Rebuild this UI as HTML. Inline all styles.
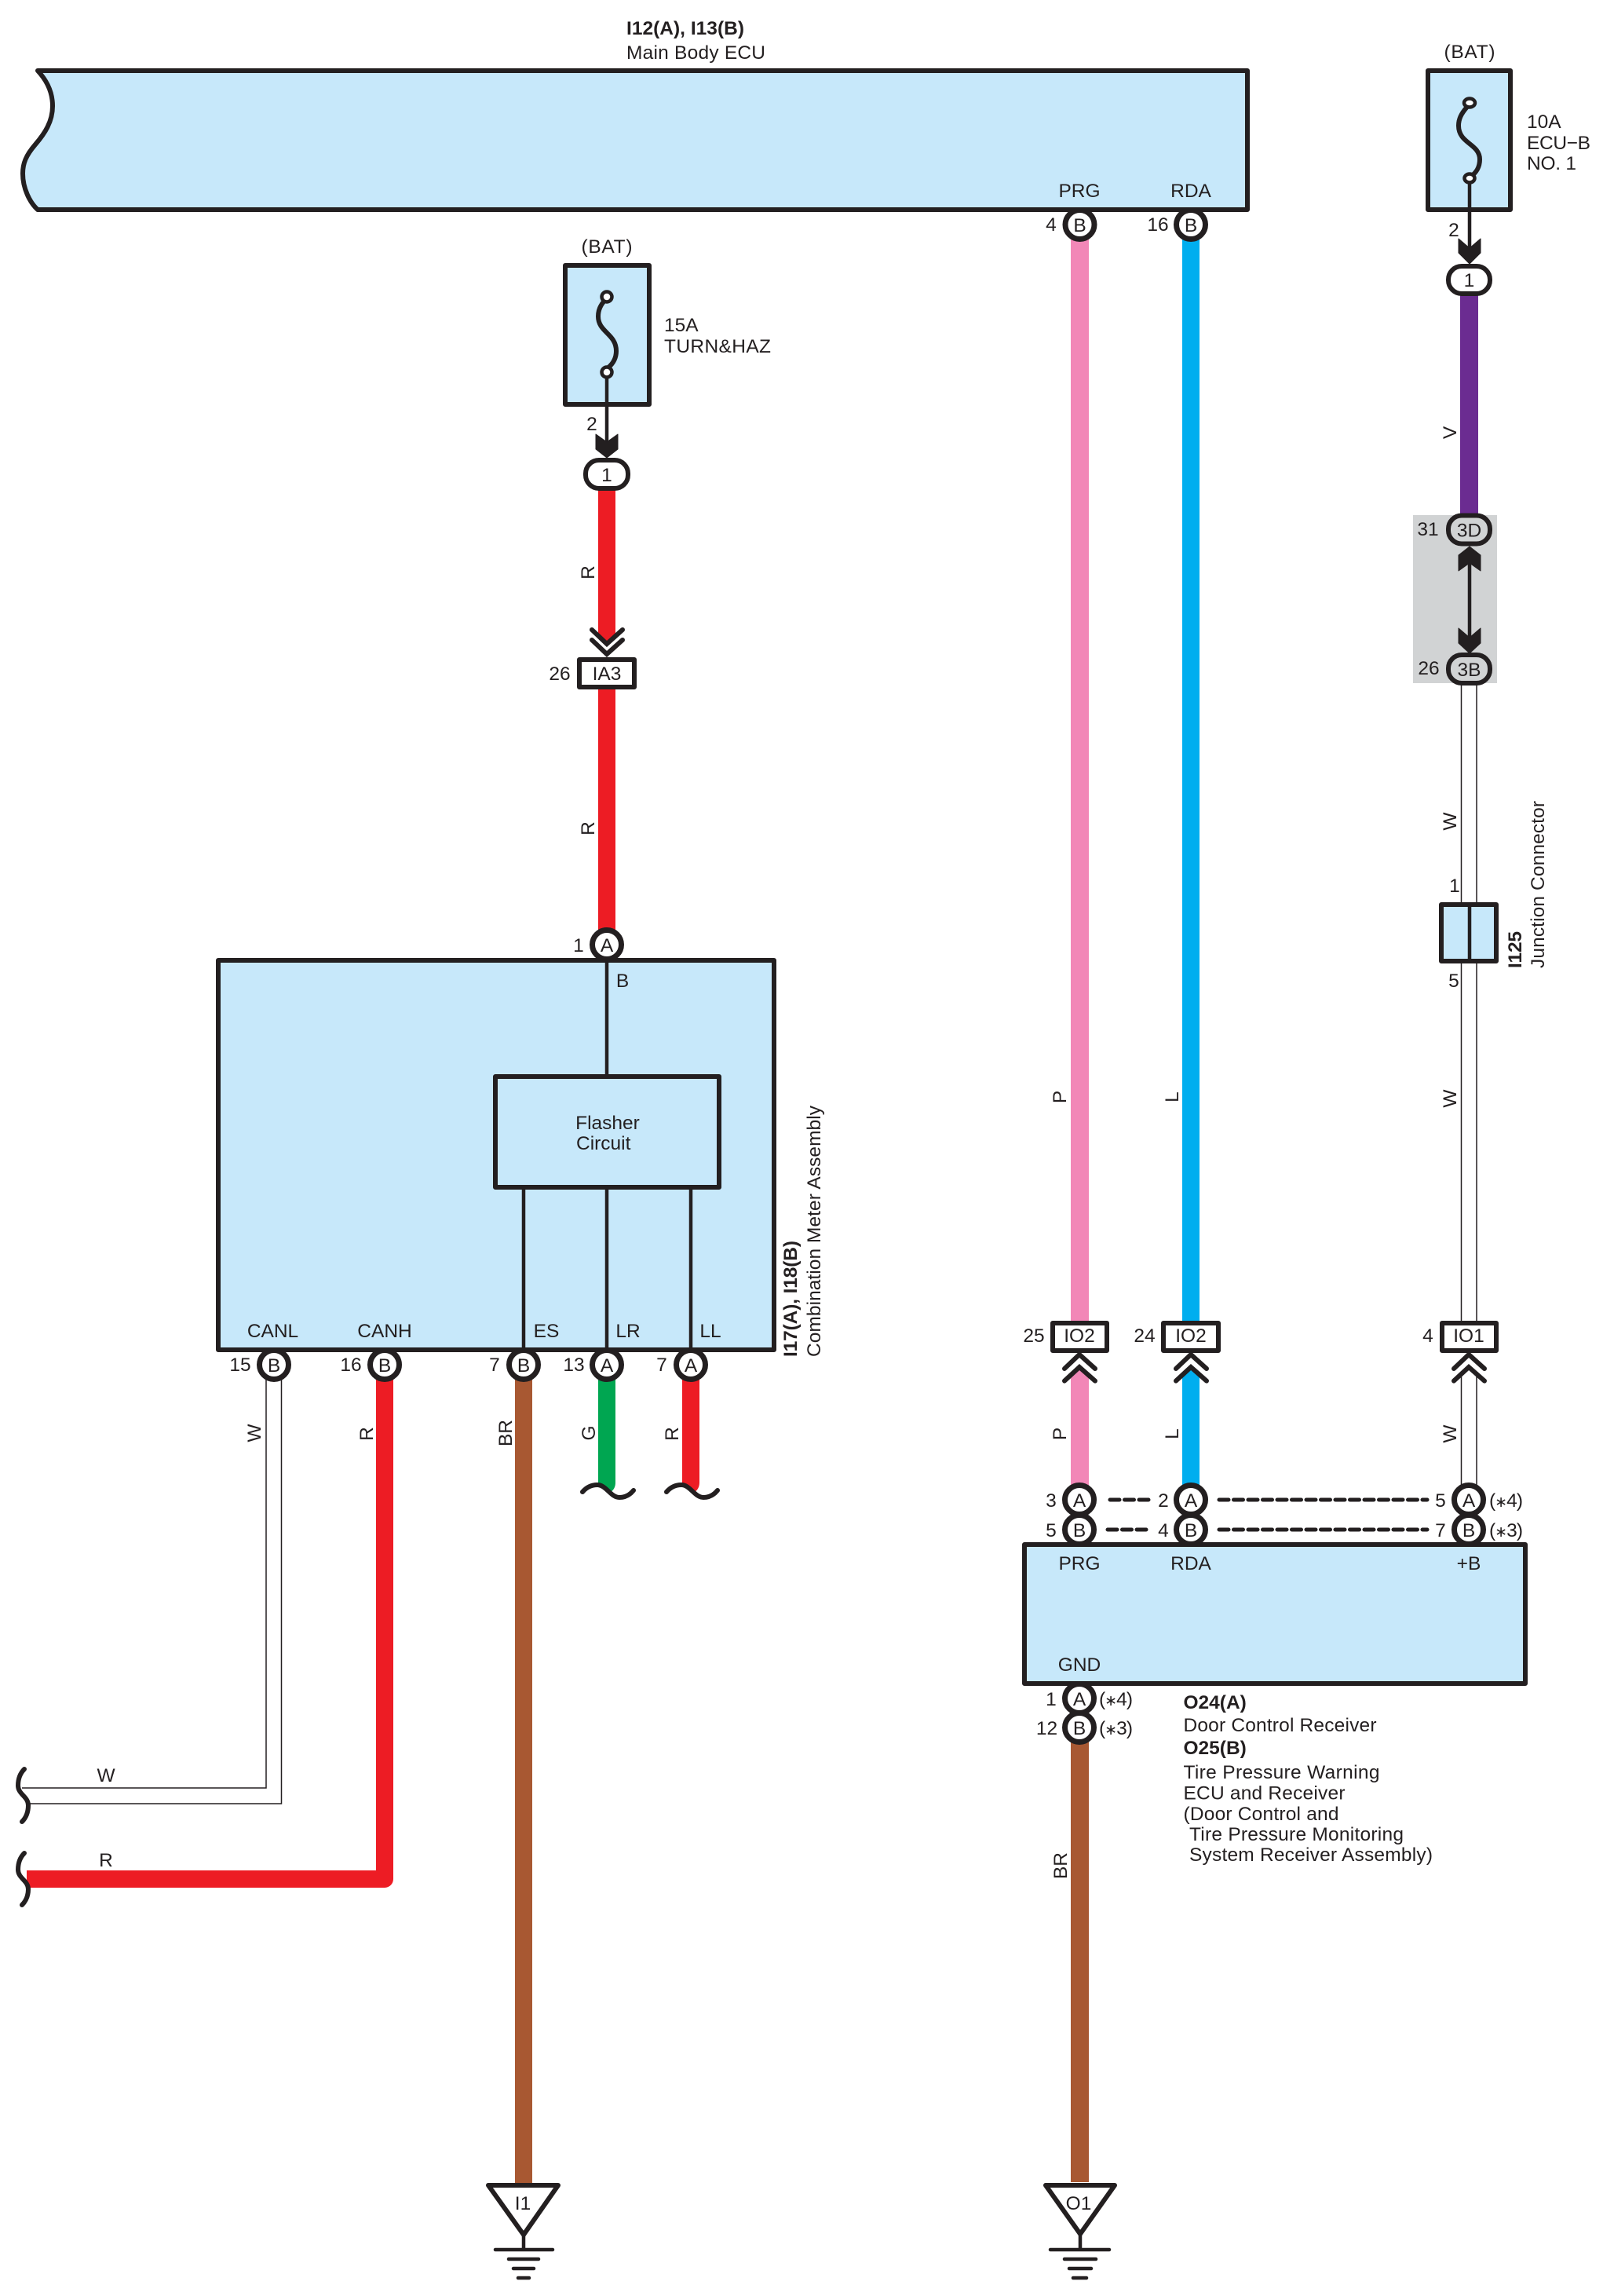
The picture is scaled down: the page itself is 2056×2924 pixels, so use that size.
<!DOCTYPE html>
<html><head><meta charset="utf-8"><style>
html,body{margin:0;padding:0;background:#fff}
svg{display:block}
text{font-family:"Liberation Sans","DejaVu Sans",sans-serif;font-size:24.5px;fill:#231F20}
.m{text-anchor:middle}
.b{font-weight:bold}
.box{fill:#C7E8FA;stroke:#231F20;stroke-width:6;stroke-linejoin:round}
.wb{fill:#fff;stroke:#231F20;stroke-width:6;stroke-linejoin:round}
.c{fill:#fff;stroke:#231F20;stroke-width:7}
.o{fill:#fff;stroke:#231F20;stroke-width:6}
.og{fill:#D1D3D4;stroke:#231F20;stroke-width:6}
.l{fill:none;stroke:#231F20;stroke-width:4.5}
.f{fill:none;stroke:#231F20;stroke-width:6}
.t{fill:none;stroke:#231F20;stroke-width:1.5}
.ch{fill:none;stroke:#231F20;stroke-width:6;stroke-linecap:round}
.sq{fill:none;stroke:#231F20;stroke-width:6;stroke-linecap:round}
.d{stroke:#231F20;stroke-width:5;stroke-linecap:round;stroke-dasharray:12 6.5}
.g{stroke:#231F20;stroke-width:4.5;stroke-linecap:round}
.a{fill:#231F20;stroke:#231F20;stroke-width:1;stroke-linejoin:round}
.s{font-size:19px}
</style></head><body>
<svg width="2056" height="2924" viewBox="0 0 2056 2924" xmlns="http://www.w3.org/2000/svg">
<rect width="2056" height="2924" fill="#fff"/>

<!-- grey splice region -->
<rect x="1800" y="656" width="107" height="214" fill="#D1D3D4"/>

<!-- main ECU -->
<path class="box" d="M48 90H1589V267H48C38 258 29 240 29 221C29 208 33 198 45 184C57 170 67 155 67 135C67 120 62 105 48 90Z"/>
<text x="798" y="35" dy=".37em" class="b" textLength="150">I12(A), I13(B)</text>
<text x="798" y="66" dy=".37em" textLength="177">Main Body ECU</text>
<text x="1375" y="242" dy=".37em" class="m">PRG</text>
<text x="1517" y="242" dy=".37em" class="m">RDA</text>

<!-- coloured wires -->
<rect x="1364" y="300" width="23" height="1384" fill="#F287B7"/>
<polygon points="1364,1750 1375.5,1738 1387,1750 1387,1895 1364,1895" fill="#F287B7"/>
<rect x="1506" y="300" width="22" height="1384" fill="#00AEEF"/>
<polygon points="1506,1750 1517,1738 1528,1750 1528,1895 1506,1895" fill="#00AEEF"/>
<rect x="1860" y="375" width="23" height="282" fill="#6B2C91"/>
<polygon points="762,620 784,620 784,808 773,820 762,808" fill="#ED1C24"/>
<rect x="762" y="875" width="22" height="310" fill="#ED1C24"/>
<polyline points="490,1750 490,2393 34,2393" fill="none" stroke="#ED1C24" stroke-width="22" stroke-linejoin="round"/>
<rect x="656" y="1750" width="22" height="1030" fill="#A85832"/>
<rect x="1364" y="2215" width="23" height="564" fill="#A85832"/>
<path d="M762 1750H784V1888Q784 1896 778 1900L762 1893Z" fill="#00A651"/>
<path d="M869 1750H891V1888Q891 1896 885 1900L869 1893Z" fill="#ED1C24"/>

<!-- white wires -->
<path class="t" d="M339 1755V2277H28M358.5 1755V2297H38"/>
<path class="t" d="M1861.5 870V1150M1881 870V1150M1861.5 1225V1684M1881 1225V1684M1861.5 1750V1892M1881 1750V1892"/>

<!-- fuse 1 -->
<text x="773" y="313" dy=".37em" class="m" textLength="65">(BAT)</text>
<rect class="box" x="720" y="338" width="107" height="177"/>
<path class="f" d="M771 382C765 388 762 395 762 403C762 423 785 425 785 447C785 455 782 462 775 468"/>
<circle cx="773" cy="378" r="6.5" fill="#fff" stroke="#231F20" stroke-width="4.5"/>
<circle cx="773" cy="474" r="6.5" fill="#fff" stroke="#231F20" stroke-width="4.5"/>
<line class="l" x1="773" y1="481" x2="773" y2="570"/>
<polygon class="a" points="759,553 773,563 787,553 787,572 773,583 759,572"/>
<text x="846" y="413" dy=".37em">15A</text>
<text x="846" y="440" dy=".37em" textLength="136">TURN&amp;HAZ</text>
<text x="754" y="539" dy=".37em" class="m">2</text>
<rect class="o" x="746" y="586" width="54" height="36" rx="17"/>
<text x="773" y="604" dy=".37em" class="m">1</text>
<text transform="rotate(-90 748 729)" x="748" y="729" dy=".37em" class="m">R</text>

<polyline class="ch" points="754,802 773,820 793,802"/>
<polyline class="ch" points="754,815 773,833 793,815"/>
<rect class="wb" x="738" y="840" width="70" height="35"/>
<text x="773" y="857" dy=".37em" class="m">IA3</text>
<text x="713" y="857" dy=".37em" class="m">26</text>
<text transform="rotate(-90 748 1055)" x="748" y="1055" dy=".37em" class="m">R</text>

<!-- combination meter -->
<rect class="box" x="278" y="1223" width="708" height="496"/>
<line class="l" x1="773" y1="1223" x2="773" y2="1371"/>
<rect class="box" x="631" y="1371" width="285" height="141"/>
<line class="l" x1="667" y1="1512" x2="667" y2="1719"/>
<line class="l" x1="773" y1="1512" x2="773" y2="1719"/>
<line class="l" x1="880" y1="1512" x2="880" y2="1719"/>
<text x="774" y="1429" dy=".37em" class="m">Flasher</text>
<text x="734" y="1455" dy=".37em">Circuit</text>
<text x="793" y="1248" dy=".37em" class="m">B</text>
<text x="347.5" y="1694" dy=".37em" class="m">CANL</text>
<text x="490" y="1694" dy=".37em" class="m">CANH</text>
<text x="696" y="1694" dy=".37em" class="m">ES</text>
<text x="800" y="1694" dy=".37em" class="m">LR</text>
<text x="905" y="1694" dy=".37em" class="m">LL</text>
<text transform="rotate(-90 1006 1728)" x="1006" y="1728" dy=".37em" class="b" textLength="148">I17(A), I18(B)</text>
<text transform="rotate(-90 1036 1728)" x="1036" y="1728" dy=".37em" textLength="320">Combination Meter Assembly</text>

<circle class="c" cx="773" cy="1203" r="18.5"/><text x="773" y="1203" dy=".37em" class="m">A</text>
<text x="737" y="1203" dy=".37em" class="m">1</text>

<circle class="c" cx="349" cy="1738" r="18.5"/><text x="349" y="1738" dy=".37em" class="m">B</text>
<circle class="c" cx="490" cy="1738" r="18.5"/><text x="490" y="1738" dy=".37em" class="m">B</text>
<circle class="c" cx="667" cy="1738" r="18.5"/><text x="667" y="1738" dy=".37em" class="m">B</text>
<circle class="c" cx="773" cy="1738" r="18.5"/><text x="773" y="1738" dy=".37em" class="m">A</text>
<circle class="c" cx="880" cy="1738" r="18.5"/><text x="880" y="1738" dy=".37em" class="m">A</text>
<text x="306" y="1737" dy=".37em" class="m">15</text>
<text x="447" y="1737" dy=".37em" class="m">16</text>
<text x="630" y="1737" dy=".37em" class="m">7</text>
<text x="731" y="1737" dy=".37em" class="m">13</text>
<text x="843" y="1737" dy=".37em" class="m">7</text>
<text transform="rotate(-90 323 1825)" x="323" y="1825" dy=".37em" class="m">W</text>
<text transform="rotate(-90 466 1826)" x="466" y="1826" dy=".37em" class="m">R</text>
<text transform="rotate(-90 643 1825)" x="643" y="1825" dy=".37em" class="m">BR</text>
<text transform="rotate(-90 749 1825)" x="749" y="1825" dy=".37em" class="m">G</text>
<text transform="rotate(-90 855 1826)" x="855" y="1826" dy=".37em" class="m">R</text>

<path class="sq" d="M742 1900C748 1893 755 1891 761 1891C772 1891 778 1907 789 1907C797 1907 803 1903 807 1898"/>
<path class="sq" d="M849 1900C855 1893 862 1891 868 1891C879 1891 885 1907 896 1907C904 1907 910 1903 914 1898"/>

<!-- left breaks -->
<path class="sq" d="M31 2253C25 2259 23 2267 23 2274C23 2285 36 2288 36 2299C36 2308 33 2315 28 2320"/>
<path class="sq" d="M31 2360C25 2366 23 2374 23 2381C23 2392 36 2395 36 2406C36 2415 33 2421 28 2426"/>
<text x="135" y="2260" dy=".37em" class="m">W</text>
<text x="135" y="2368" dy=".37em" class="m">R</text>

<!-- ground I1 -->
<polygon class="wb" points="622,2783 711,2783 667,2846"/>
<path class="g" d="M667 2846V2865M631 2865H704M648 2877H686M654 2889H680M660 2901H674" />
<text x="666" y="2805" dy=".37em" class="m">I1</text>

<!-- ground O1 -->
<polygon class="wb" points="1332,2783 1420,2783 1376,2845"/>
<path class="g" d="M1376 2845V2865M1338 2865H1413M1356 2877H1396M1362 2889H1390M1367 2901H1384"/>
<text x="1374" y="2805" dy=".37em" class="m">O1</text>

<!-- ECU pins -->
<circle class="c" cx="1375.5" cy="286" r="18.5"/><text x="1375.5" y="286" dy=".37em" class="m">B</text>
<circle class="c" cx="1517" cy="286" r="18.5"/><text x="1517" y="286" dy=".37em" class="m">B</text>
<text x="1339" y="285" dy=".37em" class="m">4</text>
<text x="1475" y="285" dy=".37em" class="m">16</text>
<text transform="rotate(-90 1349 1397)" x="1349" y="1397" dy=".37em" class="m">P</text>
<text transform="rotate(-90 1492 1397)" x="1492" y="1397" dy=".37em" class="m">L</text>

<!-- fuse 2 -->
<text x="1872" y="65" dy=".37em" class="m" textLength="65">(BAT)</text>
<rect class="box" x="1819" y="90" width="105" height="177"/>
<path class="f" d="M1869 136C1861 145 1858 152 1858 160C1858 183 1885 183 1885 203C1885 212 1881 220 1873 225"/>
<ellipse cx="1872" cy="131" rx="7" ry="5.5" fill="#fff" stroke="#231F20" stroke-width="4.5"/>
<ellipse cx="1872" cy="227" rx="6.5" ry="5.5" fill="#fff" stroke="#231F20" stroke-width="4.5"/>
<line class="l" x1="1872" y1="233" x2="1872" y2="322"/>
<polygon class="a" points="1858,304 1872,316 1886,304 1886,322 1872,336 1858,322"/>
<text x="1945" y="154" dy=".37em">10A</text>
<text x="1945" y="181" dy=".37em" textLength="81">ECU−B</text>
<text x="1945" y="207" dy=".37em" textLength="63">NO. 1</text>
<text x="1852" y="292" dy=".37em" class="m">2</text>
<rect class="o" x="1845" y="339" width="53" height="35" rx="17"/>
<text x="1871.5" y="356" dy=".37em" class="m">1</text>
<text transform="rotate(-90 1846 551)" x="1846" y="551" dy=".37em" class="m">V</text>

<!-- splice -->
<line class="l" x1="1872" y1="712" x2="1872" y2="815"/>
<polygon class="a" points="1872,696 1886,707 1886,727 1872,717 1858,727 1858,707"/>
<polygon class="a" points="1858,800 1872,812 1886,800 1886,819 1872,832 1858,819"/>
<rect class="og" x="1845" y="656.5" width="53" height="36" rx="17"/>
<text x="1871.5" y="674.5" dy=".37em" class="m">3D</text>
<rect class="og" x="1845" y="834" width="53" height="36" rx="17"/>
<text x="1871.5" y="852" dy=".37em" class="m">3B</text>
<text x="1819" y="673" dy=".37em" class="m">31</text>
<text x="1820" y="850" dy=".37em" class="m">26</text>

<!-- junction -->
<text transform="rotate(-90 1846 1046)" x="1846" y="1046" dy=".37em" class="m">W</text>
<text x="1853" y="1127" dy=".37em" class="m">1</text>
<rect class="box" x="1836" y="1152" width="70" height="72"/>
<line class="l" x1="1872" y1="1152" x2="1872" y2="1224"/>
<text x="1852" y="1248" dy=".37em" class="m">5</text>
<text transform="rotate(-90 1929 1233)" x="1929" y="1233" dy=".37em" class="b" textLength="47">I125</text>
<text transform="rotate(-90 1958 1233)" x="1958" y="1233" dy=".37em" textLength="213">Junction Connector</text>
<text transform="rotate(-90 1846 1399)" x="1846" y="1399" dy=".37em" class="m">W</text>

<!-- connectors IO -->
<rect class="wb" x="1341" y="1685" width="69" height="35"/><text x="1375" y="1700" dy=".37em" class="m">IO2</text>
<rect class="wb" x="1482" y="1685" width="70" height="35"/><text x="1517" y="1700" dy=".37em" class="m">IO2</text>
<rect class="wb" x="1837" y="1685" width="69" height="35"/><text x="1871" y="1700" dy=".37em" class="m">IO1</text>
<text x="1317" y="1700" dy=".37em" class="m">25</text>
<text x="1458" y="1700" dy=".37em" class="m">24</text>
<text x="1819" y="1700" dy=".37em" class="m">4</text>
<polyline class="ch" points="1356,1743 1375,1725 1395,1743"/>
<polyline class="ch" points="1356,1758.6 1375,1741 1395,1758.6"/>
<polyline class="ch" points="1498,1743 1517,1725 1537,1743"/>
<polyline class="ch" points="1498,1758.6 1517,1741 1537,1758.6"/>
<polyline class="ch" points="1852,1743 1871,1725 1891,1743"/>
<polyline class="ch" points="1852,1758.6 1871,1741 1891,1758.6"/>
<text transform="rotate(-90 1349 1826)" x="1349" y="1826" dy=".37em" class="m">P</text>
<text transform="rotate(-90 1492 1826)" x="1492" y="1826" dy=".37em" class="m">L</text>
<text transform="rotate(-90 1846 1826)" x="1846" y="1826" dy=".37em" class="m">W</text>

<!-- receiver -->
<rect class="box" x="1305" y="1967" width="638" height="177"/>
<text x="1375" y="1990" dy=".37em" class="m">PRG</text>
<text x="1517" y="1990" dy=".37em" class="m">RDA</text>
<text x="1871" y="1990" dy=".37em" class="m">+B</text>
<text x="1375" y="2119" dy=".37em" class="m">GND</text>

<circle class="c" cx="1375" cy="1948" r="18.5"/><text x="1375" y="1948" dy=".37em" class="m">B</text>
<circle class="c" cx="1375" cy="1910" r="18.5"/><text x="1375" y="1910" dy=".37em" class="m">A</text>
<circle class="c" cx="1517" cy="1948" r="18.5"/><text x="1517" y="1948" dy=".37em" class="m">B</text>
<circle class="c" cx="1517" cy="1910" r="18.5"/><text x="1517" y="1910" dy=".37em" class="m">A</text>
<circle class="c" cx="1871" cy="1948" r="18.5"/><text x="1871" y="1948" dy=".37em" class="m">B</text>
<circle class="c" cx="1871" cy="1910" r="18.5"/><text x="1871" y="1910" dy=".37em" class="m">A</text>
<text x="1339" y="1910" dy=".37em" class="m">3</text>
<text x="1339" y="1948" dy=".37em" class="m">5</text>
<text x="1482" y="1910" dy=".37em" class="m">2</text>
<text x="1482" y="1948" dy=".37em" class="m">4</text>
<text x="1835" y="1910" dy=".37em" class="m">5</text>
<text x="1835" y="1948" dy=".37em" class="m">7</text>
<text x="1897" y="1910" dy=".37em" textLength="43">(<tspan class="s">∗</tspan>4)</text>
<text x="1897" y="1948" dy=".37em" textLength="43">(<tspan class="s">∗</tspan>3)</text>
<line class="d" x1="1414" y1="1910" x2="1465" y2="1910"/>
<line class="d" x1="1411" y1="1948" x2="1462" y2="1948"/>
<line class="d" x1="1553" y1="1910" x2="1818" y2="1910"/>
<line class="d" x1="1553" y1="1948" x2="1818" y2="1948"/>

<circle class="c" cx="1375" cy="2200" r="18.5"/><text x="1375" y="2200" dy=".37em" class="m">B</text>
<circle class="c" cx="1375" cy="2163" r="18.5"/><text x="1375" y="2163" dy=".37em" class="m">A</text>
<text x="1339" y="2163" dy=".37em" class="m">1</text>
<text x="1333.5" y="2200" dy=".37em" class="m">12</text>
<text x="1400" y="2163" dy=".37em" textLength="43">(<tspan class="s">∗</tspan>4)</text>
<text x="1400" y="2200" dy=".37em" textLength="43">(<tspan class="s">∗</tspan>3)</text>
<text transform="rotate(-90 1350 2376)" x="1350" y="2376" dy=".37em" class="m">BR</text>

<text x="1507.5" y="2167" dy=".37em" class="b">O24(A)</text>
<text x="1507.5" y="2196" dy=".37em" textLength="246">Door Control Receiver</text>
<text x="1507.5" y="2225" dy=".37em" class="b">O25(B)</text>
<text x="1507.5" y="2256" dy=".37em" textLength="250">Tire Pressure Warning</text>
<text x="1507.5" y="2282.5" dy=".37em" textLength="206">ECU and Receiver</text>
<text x="1507.5" y="2309" dy=".37em" textLength="198">(Door Control and</text>
<text x="1515" y="2335" dy=".37em" textLength="273">Tire Pressure Monitoring</text>
<text x="1515" y="2361" dy=".37em" textLength="310">System Receiver Assembly)</text>
</svg>
</body></html>
